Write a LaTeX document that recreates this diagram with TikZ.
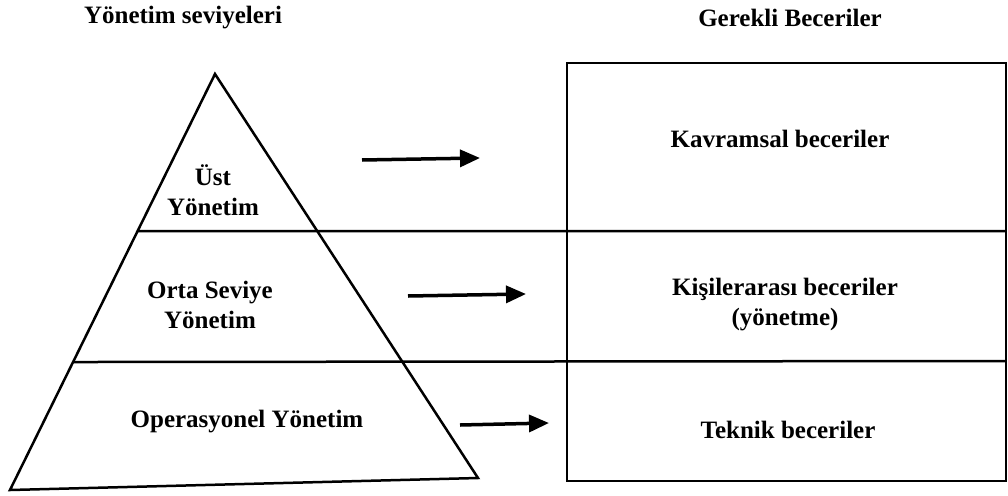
\documentclass[tikz,border=0pt]{standalone}
\usepackage{fontspec}
\setmainfont{Liberation Serif}
\usetikzlibrary{calc,arrows.meta}

\begin{document}
\begin{tikzpicture}[x=1pt,y=-1pt,
  lbl/.style={font=\bfseries\fontsize{25}{30}\selectfont, align=center, inner sep=0pt},
  edge/.style={line width=2.5pt, line join=miter},
  goes/.style={line width=3.5pt, -{Triangle[length=20pt,width=17pt]}}]
\useasboundingbox (0,0) rectangle (1008,495);

% pyramid
\coordinate (top) at (215,74);
\coordinate (bl) at (10,490);
\coordinate (br) at (478,478);
\draw[edge] (top) -- (bl) -- (br) -- cycle;

% box of skills
\coordinate (b1) at (567,63);
\coordinate (b2) at (1006,481);
\draw[edge] (b1) rectangle (b2);

% dividing lines
\coordinate (l1) at (intersection of top--bl and 0,231--1008,231);
\coordinate (r1) at (1006,231);
\coordinate (l2) at (intersection of top--bl and 0,362--1008,362);
\coordinate (r2) at (1006,361);
\draw[edge] (l1) -- (r1);
\draw[edge] (l2) -- (r2);

% headers
\node[lbl] (h1) at (183,18) {Yönetim seviyeleri};
\node[lbl] (h2) at (790,18) {Gerekli Beceriler};

% levels
\node[lbl] (ust) at (213,190) {Üst\\Yönetim};
\node[lbl] (orta) at (210,305) {Orta Seviye\\Yönetim};
\node[lbl] (ops) at (247,422) {Operasyonel Yönetim};

% skills
\node[lbl] (kav) at (780,139) {Kavramsal beceriler};
\node[lbl] (kis) at (785,305) {Kişilerarası beceriler\\(yönetme)};
\node[lbl] (tek) at (788,430) {Teknik beceriler};

% arrows
\coordinate (a1) at (362,160);
\coordinate (e1) at (480,158);
\coordinate (a2) at (408,296);
\coordinate (e2) at (526,294);
\coordinate (a3) at (460,425);
\coordinate (e3) at (549,423);
\draw[goes] (a1) -- (e1);
\draw[goes] (a2) -- (e2);
\draw[goes] (a3) -- (e3);
\end{tikzpicture}
\end{document}
